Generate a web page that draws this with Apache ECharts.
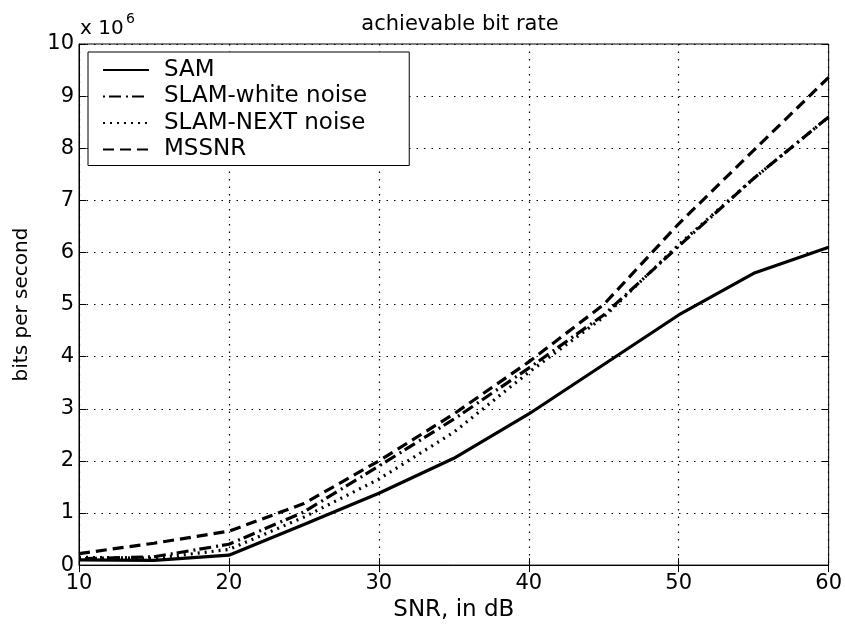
<!DOCTYPE html>
<html><head><meta charset="utf-8">
<script src="https://cdn.jsdelivr.net/npm/echarts@6/dist/echarts.min.js"></script>
<style>html,body{margin:0;padding:0;background:#fff}#c{width:845px;height:627px}</style>
</head><body><div id="c"></div>
<script>
// SNR in dB
const snr = [10, 15, 20, 25, 30, 35, 40, 45, 50, 55, 60];
// bit rates in units of 10^6 bits per second
const sam       = [0.10, 0.09, 0.19, 0.78, 1.38, 2.05, 2.90, 3.85, 4.80, 5.60, 6.10];
const slamWhite = [0.12, 0.16, 0.40, 1.02, 1.90, 2.80, 3.78, 4.80, 6.12, 7.42, 8.60];
const slamNext  = [0.15, 0.13, 0.30, 0.92, 1.65, 2.55, 3.70, 4.76, 6.15, 7.42, 8.60];
const mssnr     = [0.22, 0.42, 0.65, 1.18, 2.00, 2.90, 3.90, 5.00, 6.55, 7.96, 9.36];
const yTicks = [0, 1, 2, 3, 4, 5, 6, 7, 8, 9, 10];
const xTicks = [10, 20, 30, 40, 50, 60];

const pairs = a => snr.map((x, i) => [x, a[i]]);
const font = 'DejaVu Sans, Liberation Sans, sans-serif';
const chart = echarts.init(document.getElementById('c'));
const mk = (name, data, type) => ({
  name, type: 'line', data: pairs(data), symbol: 'none',
  xAxisIndex: 0, yAxisIndex: 0,
  lineStyle: { color: '#000', width: 3.2, type: type, cap: 'butt' },
  itemStyle: { color: '#000' }
});
chart.setOption({
  animation: false,
  backgroundColor: '#fff',
  title: { text: 'achievable bit rate', left: 455, top: 9, textAlign: 'center',
    textStyle: { fontFamily: font, fontSize: 21, fontWeight: 'normal', color: '#000', lineHeight: 21 } },
  graphic: [
    { type: 'text', x: 80, y: 29,
      style: { text: 'x 10', fontFamily: font, fontSize: 20, fill: '#000', verticalAlign: 'middle', align: 'left' } },
    { type: 'text', x: 126, y: 19,
      style: { text: '6', fontFamily: font, fontSize: 14, fill: '#000', verticalAlign: 'middle', align: 'left' } }
  ],
  grid: { left: 79, right: 16, top: 44, bottom: 58, show: true, borderColor: '#000', borderWidth: 1 },
  legend: {
    orient: 'vertical', left: 88, top: 52,
    data: ['SAM', 'SLAM-white noise', 'SLAM-NEXT noise', 'MSSNR'],
    itemWidth: 46, itemHeight: 14, itemGap: 3.5,
    padding: [6.5, 42, 4.5, 14],
    borderColor: '#000', borderWidth: 1, backgroundColor: '#fff',
    itemStyle: { color: 'rgba(0,0,0,0)', borderWidth: 0, opacity: 0 },
    textStyle: { fontFamily: font, fontSize: 23, lineHeight: 23, color: '#000', padding: [0, 0, 0, 10] }
  },
  xAxis: [{
    type: 'value', min: 10, max: 60, interval: 10,
    name: 'SNR, in dB', nameLocation: 'middle', nameGap: 31,
    nameTextStyle: { fontFamily: font, fontSize: 23, color: '#000' },
    axisLine: { show: true, lineStyle: { color: '#000', width: 1 } },
    axisTick: { show: true, inside: true, length: 7, lineStyle: { color: '#000' } },
    axisLabel: { fontFamily: font, fontSize: 21, color: '#000', margin: 8,
      formatter: v => xTicks.includes(v) ? String(v) : '' },
    splitLine: { show: true, lineStyle: { color: '#000', width: 1.2, type: [1.5, 6] } }
  }, {
    type: 'value', min: 10, max: 60, interval: 10, position: 'top',
    axisLine: { show: false }, axisLabel: { show: false }, splitLine: { show: false },
    axisTick: { show: true, inside: true, length: 7, lineStyle: { color: '#000' } }
  }],
  yAxis: [{
    type: 'value', min: 0, max: 10, interval: 1,
    name: 'bits per second', nameLocation: 'middle', nameGap: 47, nameRotate: 90,
    nameTextStyle: { fontFamily: font, fontSize: 20, color: '#000' },
    axisLine: { show: true, lineStyle: { color: '#000', width: 1 } },
    axisTick: { show: true, inside: true, length: 7, lineStyle: { color: '#000' } },
    axisLabel: { fontFamily: font, fontSize: 21, color: '#000', margin: 5,
      formatter: v => yTicks.includes(v) ? String(v) : '' },
    splitLine: { show: true, lineStyle: { color: '#000', width: 1.2, type: [1.5, 6] } }
  }, {
    type: 'value', min: 0, max: 10, interval: 1, position: 'right',
    axisLine: { show: false }, axisLabel: { show: false }, splitLine: { show: false },
    axisTick: { show: true, inside: true, length: 7, lineStyle: { color: '#000' } }
  }],
  series: [
    mk('SAM', sam, 'solid'),
    mk('SLAM-white noise', slamWhite, [2, 4, 12, 5]),
    mk('SLAM-NEXT noise', slamNext, [2, 5]),
    mk('MSSNR', mssnr, [11, 6])
  ]
});
</script></body></html>
